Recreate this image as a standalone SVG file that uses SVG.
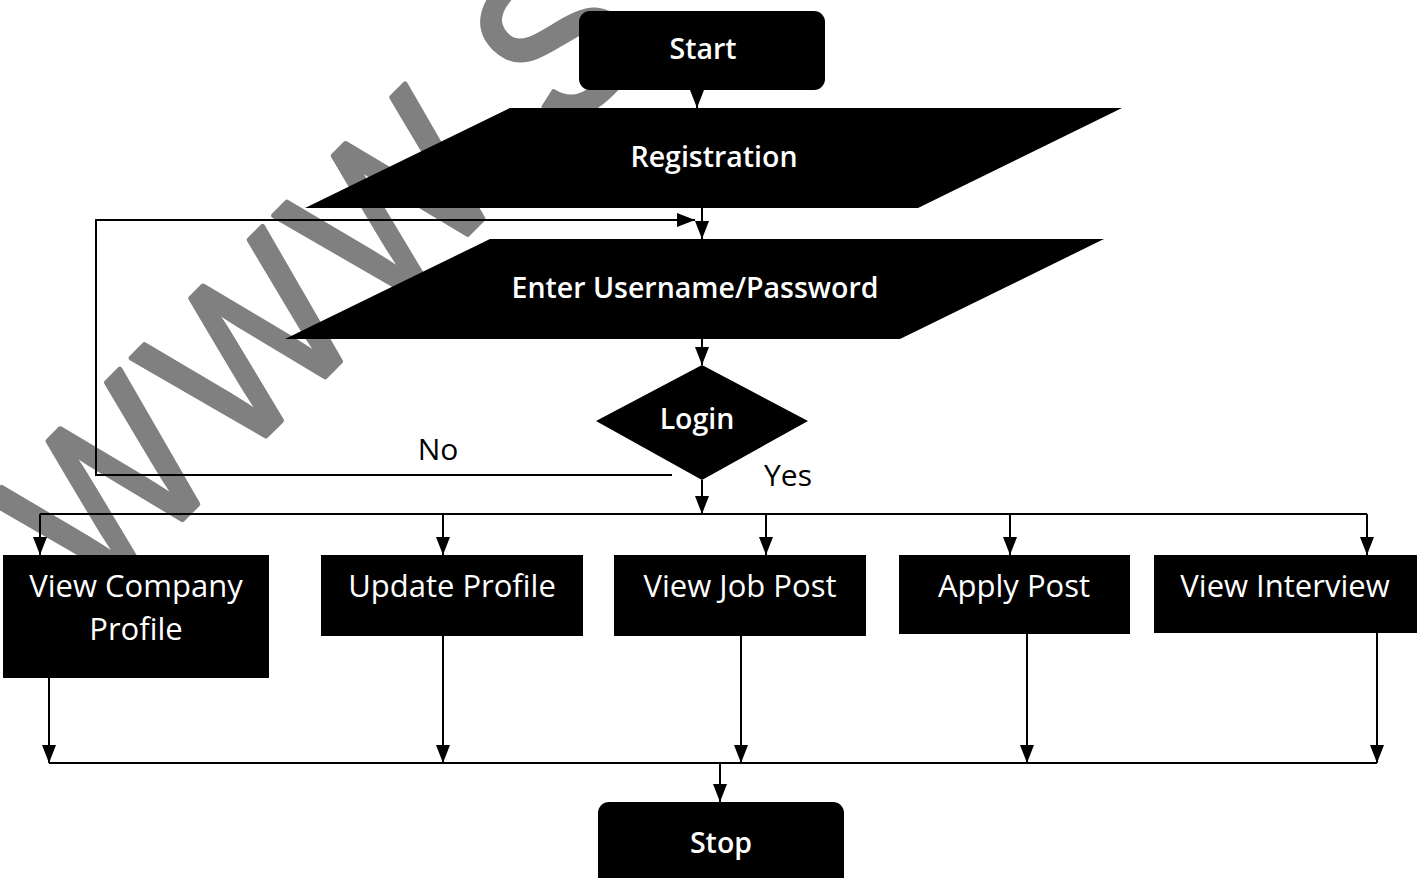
<svg xmlns="http://www.w3.org/2000/svg" width="1424" height="878" viewBox="0 0 1424 878">
<style>
.shape{fill:#000;}
.t{font-family:"Open Sans","Liberation Sans",sans-serif;fill:#fff;font-size:31px;text-anchor:middle;}
.tb{font-family:"Open Sans","Liberation Sans",sans-serif;fill:#fff;font-size:28.5px;text-anchor:middle;font-weight:600;}
.lbl{font-family:"Open Sans","Liberation Sans",sans-serif;fill:#000;font-size:30px;text-anchor:middle;}
.ln{stroke:#000;stroke-width:2;fill:none;}
.wm{font-family:"Liberation Sans",sans-serif;fill:#808080;stroke:#808080;stroke-width:5;stroke-linejoin:round;font-size:219px;letter-spacing:15px;}
</style>
<defs>
<marker id="ah" markerWidth="18" markerHeight="14" viewBox="0 0 18 14" refX="18" refY="7" orient="auto" markerUnits="userSpaceOnUse">
<path d="M0,0 L18,7 L0,14 Z" fill="#000"/>
</marker>
</defs>
<rect width="1424" height="878" fill="#fff"/>
<g id="watermark" transform="translate(94,608) rotate(-45) scale(0.91,1)">
<text class="wm" x="0" y="0">WWW.S</text>
</g>
<g id="connectors">
<line class="ln" x1="697" y1="90" x2="697" y2="108" marker-end="url(#ah)"/>
<line class="ln" x1="702" y1="208" x2="702" y2="239" marker-end="url(#ah)"/>
<polyline class="ln" points="672,475 96,475 96,220 695,220" marker-end="url(#ah)"/>
<line class="ln" x1="702" y1="339" x2="702" y2="365" marker-end="url(#ah)"/>
<line class="ln" x1="702" y1="480" x2="702" y2="514" marker-end="url(#ah)"/>
<line class="ln" x1="40" y1="514" x2="1367" y2="514"/>
<line class="ln" x1="40" y1="514" x2="40" y2="555" marker-end="url(#ah)"/>
<line class="ln" x1="443" y1="514" x2="443" y2="555" marker-end="url(#ah)"/>
<line class="ln" x1="766" y1="514" x2="766" y2="555" marker-end="url(#ah)"/>
<line class="ln" x1="1010" y1="514" x2="1010" y2="555" marker-end="url(#ah)"/>
<line class="ln" x1="1367" y1="514" x2="1367" y2="555" marker-end="url(#ah)"/>
<line class="ln" x1="49" y1="678" x2="49" y2="763" marker-end="url(#ah)"/>
<line class="ln" x1="443" y1="636" x2="443" y2="763" marker-end="url(#ah)"/>
<line class="ln" x1="741" y1="636" x2="741" y2="763" marker-end="url(#ah)"/>
<line class="ln" x1="1027" y1="634" x2="1027" y2="763" marker-end="url(#ah)"/>
<line class="ln" x1="1377" y1="633" x2="1377" y2="763" marker-end="url(#ah)"/>
<line class="ln" x1="49" y1="763" x2="1377" y2="763"/>
<line class="ln" x1="720" y1="763" x2="720" y2="802" marker-end="url(#ah)"/>
<text class="lbl" x="438" y="460">No</text>
<text class="lbl" x="788" y="486">Yes</text>
</g>
<g id="start">
<rect class="shape" x="579" y="11" width="246" height="79" rx="11"/>
<text class="tb" x="703" y="59">Start</text>
</g>
<g id="registration">
<polygon class="shape" points="510,108 1122,108 918,208 305,208"/>
<text class="tb" x="714" y="167">Registration</text>
</g>
<g id="credentials">
<polygon class="shape" points="490,239 1104,239 900,339 285,339"/>
<text class="tb" x="695" y="298">Enter Username/Password</text>
</g>
<g id="login">
<polygon class="shape" points="702,365 808,421 702,480 596,421"/>
<text class="tb" x="697" y="429">Login</text>
</g>
<g id="view-company">
<rect class="shape" x="3" y="555" width="266" height="123"/>
<text class="t" x="136" y="597">View Company</text>
<text class="t" x="136" y="640">Profile</text>
</g>
<g id="update-profile">
<rect class="shape" x="321" y="555" width="262" height="81"/>
<text class="t" x="452" y="597">Update Profile</text>
</g>
<g id="view-job">
<rect class="shape" x="614" y="555" width="252" height="81"/>
<text class="t" x="740" y="597">View Job Post</text>
</g>
<g id="apply-post">
<rect class="shape" x="899" y="555" width="231" height="79"/>
<text class="t" x="1014" y="597">Apply Post</text>
</g>
<g id="view-interview">
<rect class="shape" x="1154" y="555" width="263" height="78"/>
<text class="t" x="1285" y="597">View Interview</text>
</g>
<g id="stop">
<rect class="shape" x="598" y="802" width="246" height="90" rx="11"/>
<text class="tb" x="721" y="853">Stop</text>
</g>
</svg>
